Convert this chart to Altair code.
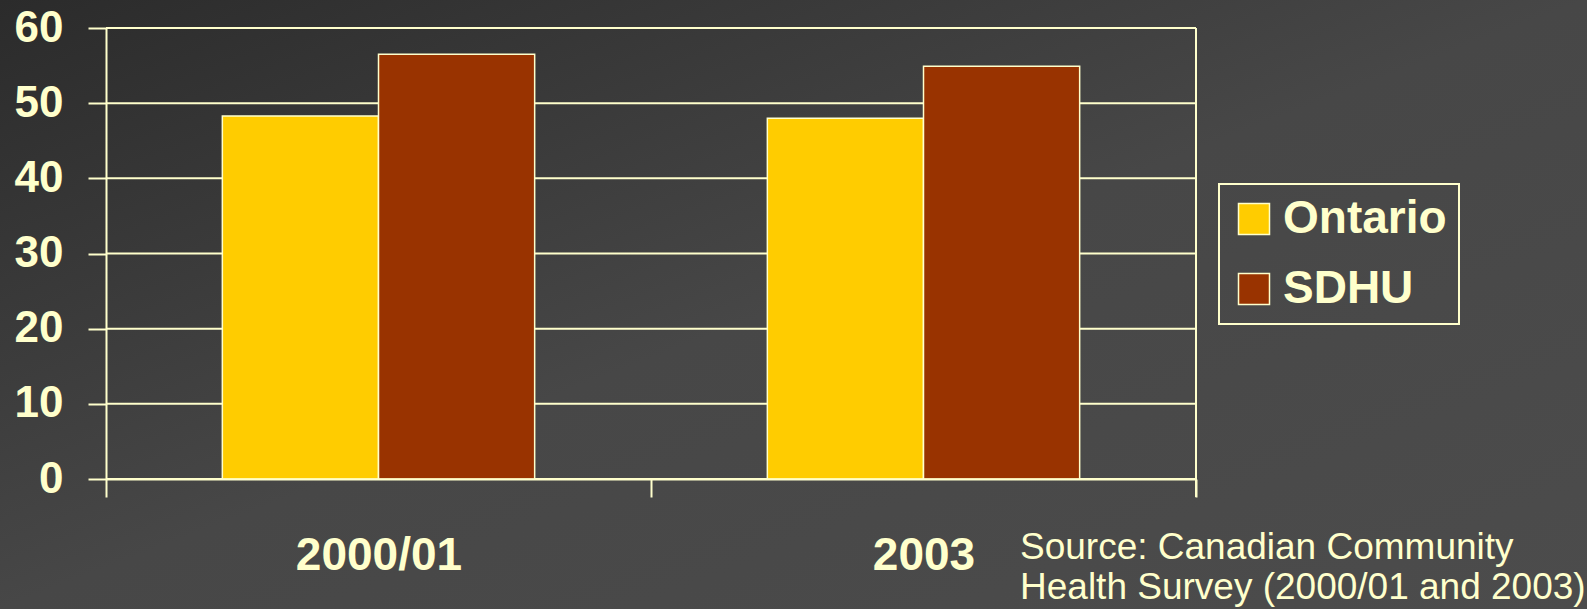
import altair as alt
import pandas as pd

years = ["2000/01", "2003"]
series = ["Ontario", "SDHU"]
ontario = [48.3, 48.0]
sdhu = [56.5, 54.9]
colors = ["#ffcc00", "#993300"]
y_ticks = [0, 10, 20, 30, 40, 50, 60]
source_lines = ["Source: Canadian Community", "Health Survey (2000/01 and 2003)"]

CREAM = "#ffffcc"
FONT = "Liberation Sans"

rows = []
for i, yr in enumerate(years):
    rows.append({"year": yr, "series": "Ontario", "value": ontario[i]})
    rows.append({"year": yr, "series": "SDHU", "value": sdhu[i]})
df = pd.DataFrame(rows)

W, H = 1090, 451
PAD = {"left": 106, "top": 28, "right": 391, "bottom": 130}

bg = alt.Chart(pd.DataFrame({"k": [0]})).mark_rect(
    color=alt.Gradient(
        gradient="linear", x1=0, y1=0, x2=1, y2=1,
        stops=[alt.GradientStop(color="#2b2b2b", offset=0),
               alt.GradientStop(color="#474747", offset=0.5),
               alt.GradientStop(color="#4c4c4c", offset=1)],
    )
).encode(
    x=alt.value(-PAD["left"]), x2=alt.value(W + PAD["right"]),
    y=alt.value(-PAD["top"]), y2=alt.value(H + PAD["bottom"]),
)

grid = alt.Chart(pd.DataFrame({"tick": y_ticks})).mark_rule(
    color=CREAM, strokeWidth=2
).encode(
    y=alt.Y("tick:Q"),
    x=alt.value(0), x2=alt.value(W),
)

frame = alt.Chart(pd.DataFrame({"k": [0]})).mark_rule(
    color=CREAM, strokeWidth=2
).encode(x=alt.value(W), y=alt.value(0), y2=alt.value(H + 18))

bars = alt.Chart(df).mark_bar(stroke=CREAM, strokeWidth=1.5).encode(
    x=alt.X("year:N", sort=years, title=None,
            scale=alt.Scale(paddingInner=0, paddingOuter=0),
            axis=alt.Axis(labelAngle=0, tickBand="extent", tickSize=18, tickWidth=2,
                          tickColor=CREAM, domainColor=CREAM, domainWidth=2,
                          labelFont=FONT, labelFontSize=46, labelFontWeight="bold",
                          labelColor=CREAM, labelPadding=36, labelBaseline="top",
                          grid=False, zindex=1)),
    xOffset=alt.XOffset("series:N", sort=series,
                        scale=alt.Scale(paddingInner=0, paddingOuter=0.745)),
    y=alt.Y("value:Q", title=None,
            scale=alt.Scale(domain=[0, 60], nice=False),
            axis=alt.Axis(values=y_ticks, tickSize=18, tickWidth=2, tickColor=CREAM,
                          domainColor=CREAM, domainWidth=2, grid=False,
                          labelFont=FONT, labelFontSize=44, labelFontWeight="bold",
                          labelColor=CREAM, labelPadding=25, zindex=1)),
    color=alt.Color("series:N", sort=series,
                    scale=alt.Scale(domain=series, range=colors),
                    legend=alt.Legend(title=None, orient="none", legendX=1113, legendY=156,
                                      strokeColor=CREAM, padding=12,
                                      symbolType="square", symbolSize=961,
                                      symbolStrokeColor=CREAM, symbolStrokeWidth=1.5,
                                      symbolOpacity=1, labelLimit=0,
                                      labelFont=FONT, labelFontSize=46,
                                      labelFontWeight="bold", labelColor=CREAM,
                                      labelOffset=6, rowPadding=24)),
)

src = alt.Chart(pd.DataFrame({"t": [source_lines]})).mark_text(
    align="left", baseline="top", font=FONT, fontSize=37, color=CREAM, lineHeight=40
).encode(
    text="t",
    x=alt.value(914), y=alt.value(502),
)

chart = alt.layer(bg, grid, bars, frame, src).properties(
    width=W, height=H,
    autosize=alt.AutoSizeParams(type="none"),
    padding=PAD,
    background="#404040",
).configure_view(stroke=None).configure_legend(strokeWidth=2)

chart.save("out.html", embed_options={"renderer": "svg", "actions": False})
